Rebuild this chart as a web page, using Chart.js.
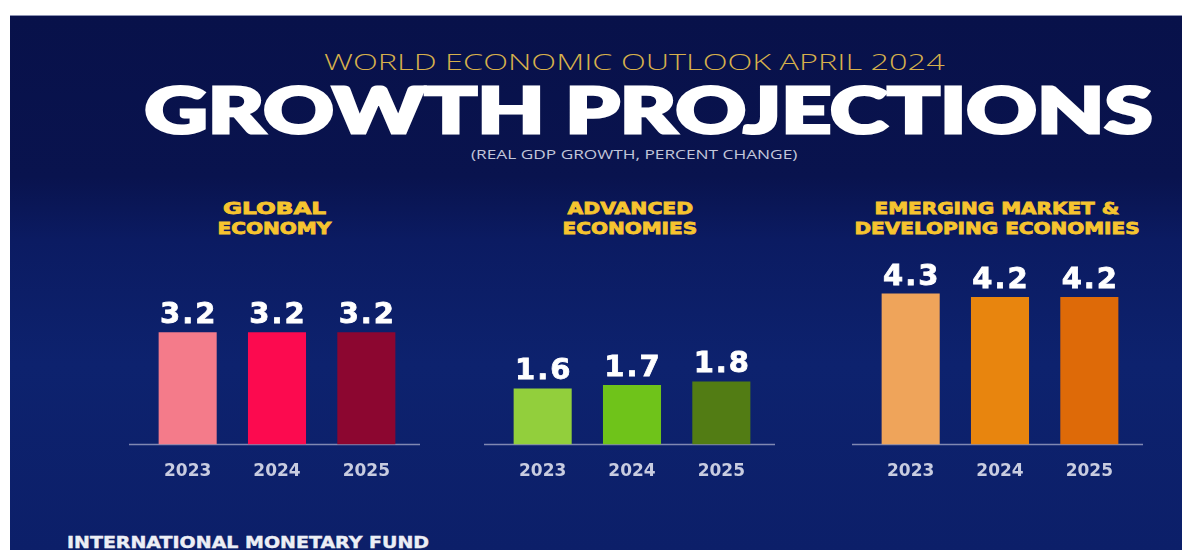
<!DOCTYPE html>
<html>
<head>
<meta charset="utf-8">
<script src="https://cdn.jsdelivr.net/npm/chart.js@4.4.1/dist/chart.umd.min.js"></script>
<style>
  html,body{margin:0;padding:0;background:#ffffff;width:1182px;height:550px;overflow:hidden;}
  #bg{position:absolute;left:10px;top:15px;width:1172px;height:535px;
      background:linear-gradient(180deg,#08114a 0%,#09134e 30%,#0b1b62 42%,#0d226e 65%,#0c1f69 100%);
      border-top:1px solid #8d93b3;}
  .t{position:absolute;white-space:nowrap;line-height:1;transform-origin:50% 50%;}
  canvas{position:absolute;}
</style>
</head>
<body>
<div id="bg"></div>
<div id="texts"></div>
<canvas id="c0" width="350" height="240"></canvas>
<canvas id="c1" width="350" height="240"></canvas>
<canvas id="c2" width="350" height="240"></canvas>
<script>
// ---- data ----
const years = ['2023', '2024', '2025'];
const globalValues = [3.2, 3.2, 3.2];
const advancedValues = [1.6, 1.7, 1.8];
const emergingValues = [4.3, 4.2, 4.2];
const panelTitles = [['GLOBAL', 'ECONOMY'], ['ADVANCED', 'ECONOMIES'], ['EMERGING MARKET &', 'DEVELOPING ECONOMIES']];
const headTitle = 'WORLD ECONOMIC OUTLOOK APRIL 2024';
const mainTitle = 'GROWTH PROJECTIONS';
const subTitle = '(REAL GDP GROWTH, PERCENT CHANGE)';
const sourceText = 'INTERNATIONAL MONETARY FUND';

// ---- styles ----
const globalColors = ['#f47b8a', '#fc0a4f', '#8c0630'];
const advancedColors = ['#92cf3c', '#6fc31a', '#527c14'];
const emergingColors = ['#efa45a', '#e8850e', '#de6a08'];

// ---- text layout ----
const textBox = document.getElementById('texts');
function addText(txt, cx, cy, w, font, color, stroke){
  const d = document.createElement('div');
  d.className = 't';
  d.textContent = txt;
  d.style.font = font;
  d.style.color = color;
  if (stroke) d.style.webkitTextStroke = stroke + 'px ' + color;
  textBox.appendChild(d);
  const nat = d.offsetWidth, h = d.offsetHeight;
  d.style.left = (cx - nat/2) + 'px';
  d.style.top = (cy - h/2) + 'px';
  d.style.transform = 'scaleX(' + (w/nat) + ')';
}
addText(headTitle, 634, 61, 621, '300 22px "Open Sans"', '#d6b04c');
addText(mainTitle, 648, 108, 1008, '900 63px Lato', '#ffffff', 3);
addText(subTitle, 634, 154, 326, '400 12.5px "Open Sans"', '#c3c7da');
addText(sourceText, 248, 543, 362, 'bold 15px "DejaVu Sans"', '#eceef5', 0.4);

const panelCenters = [276, 632, 999];
const titleWidths = [[103, 114], [126, 135], [245, 285]];
panelTitles.forEach((lines, p) => {
  lines.forEach((ln, k) => {
    addText(ln, panelCenters[p] - 2, 208 + k*20, titleWidths[p][k], 'bold 16px "DejaVu Sans"', '#f6c42f', 0.8);
  });
});

// ---- charts ----
const baselinePlugin = {
  id: 'baseline',
  beforeDatasetsDraw(chart){
    const ctx = chart.ctx, a = chart.chartArea;
    const y = chart.scales.y.getPixelForValue(0);
    ctx.save();
    ctx.strokeStyle = '#8088b2';
    ctx.lineWidth = 1.5;
    ctx.beginPath();
    ctx.moveTo(a.left - 14, y);
    ctx.lineTo(a.right + 9, y);
    ctx.stroke();
    ctx.restore();
  }
};
const valueLabelPlugin = {
  id: 'valueLabels',
  afterDatasetsDraw(chart){
    const ctx = chart.ctx;
    const ds = chart.data.datasets[0];
    const meta = chart.getDatasetMeta(0);
    ctx.save();
    ctx.font = 'bold 29px "DejaVu Sans"';
    ctx.letterSpacing = '2px';
    ctx.fillStyle = '#ffffff';
    ctx.strokeStyle = '#ffffff';
    ctx.lineWidth = 0.8;
    ctx.textAlign = 'center';
    ctx.textBaseline = 'alphabetic';
    meta.data.forEach((bar, i) => {
      const s = ds.data[i].toFixed(1);
      ctx.fillText(s, bar.x + 1, bar.y - 9);
      ctx.strokeText(s, bar.x + 1, bar.y - 9);
    });
    ctx.restore();
  }
};

function makeChart(id, values, colors, centerX){
  const cv = document.getElementById(id);
  cv.style.left = (centerX - 175) + 'px';
  cv.style.top = '251px';
  return new Chart(cv, {
    type: 'bar',
    data: { labels: years, datasets: [{ data: values, backgroundColor: colors, borderWidth: 0,
      barPercentage: 0.65, categoryPercentage: 1 }] },
    options: {
      responsive: false, animation: false, devicePixelRatio: 1,
      layout: { padding: { left: 41, right: 41, top: 18, bottom: 0 } },
      plugins: { legend: { display: false }, tooltip: { enabled: false } },
      scales: {
        x: { grid: { display: false }, border: { display: false },
             ticks: { color: '#c8cce0', font: { family: 'DejaVu Sans', weight: 'bold', size: 17 }, padding: 9 } },
        y: { display: false, min: 0, max: 5 }
      }
    },
    plugins: [baselinePlugin, valueLabelPlugin]
  });
}
makeChart('c0', globalValues, globalColors, 276.5);
makeChart('c1', advancedValues, advancedColors, 632);
makeChart('c2', emergingValues, emergingColors, 999.5);
</script>
</body>
</html>
